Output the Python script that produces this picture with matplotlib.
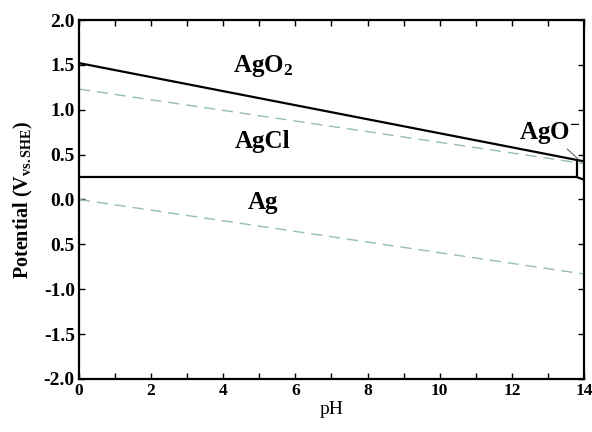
import matplotlib
matplotlib.use("Agg")
import matplotlib.pyplot as plt

# Pourbaix diagram boundaries (pH, potential V vs. SHE)
ph_ago2 = [0.0, 14.0]
v_ago2 = [1.52, 0.425]
ph_agcl = [0.0, 13.8]
v_agcl = [0.25, 0.25]
ph_vert = [13.8, 13.8]
v_vert = [0.25, 0.44]
ph_agoneg = [13.8, 14.0]
v_agoneg = [0.25, 0.22]

# water stability lines
ph_water = [0.0, 14.0]
v_o2 = [1.23, 0.40]
v_h2 = [0.0, -0.83]

# region labels: (text, pH, V)
region_names = ["AgO$_\\mathbf{2}$", "AgCl", "Ag"]
region_ph = [5.1, 5.1, 5.1]
region_v = [1.49, 0.65, -0.03]

x_ticks = list(range(0, 15))
x_ticklabels = [str(t) if t % 2 == 0 else "" for t in x_ticks]
y_ticks = [2.0, 1.5, 1.0, 0.5, 0.0, -0.5, -1.0, -1.5, -2.0]
y_ticklabels = ["2.0", "1.5", "1.0", "0.5", "0.0", "0.5", "-1.0", "-1.5", "-2.0"]

plt.rcParams["font.family"] = ["Liberation Serif", "DejaVu Serif"]
plt.rcParams["mathtext.fontset"] = "custom"
plt.rcParams["mathtext.rm"] = "Liberation Serif"
plt.rcParams["mathtext.bf"] = "Liberation Serif:bold"
plt.rcParams["mathtext.it"] = "Liberation Serif:italic"

fig = plt.figure(figsize=(5.92, 4.32), dpi=100)
ax = fig.add_axes([0.1334, 0.1227, 0.8531, 0.831])

dash_col = "#93bdb5"
ax.plot(ph_water, v_o2, color=dash_col, lw=1.0, dashes=(8, 5))
ax.plot(ph_water, v_h2, color=dash_col, lw=1.0, dashes=(8, 5))

for xs, ys in [(ph_ago2, v_ago2), (ph_agcl, v_agcl), (ph_vert, v_vert), (ph_agoneg, v_agoneg)]:
    ax.plot(xs, ys, color="black", lw=1.6, solid_capstyle="butt")

for name, px, pv in zip(region_names, region_ph, region_v):
    ax.text(px, pv, name, fontsize=18, fontweight="bold", ha="center", va="center")

ax.annotate("AgO$^{\\mathbf{-}}$", xy=(13.84, 0.45), xytext=(13.05, 0.74),
            fontsize=18, fontweight="bold", ha="center", va="center",
            arrowprops=dict(arrowstyle="-", color="#555555", lw=0.7,
                            shrinkA=12, shrinkB=0))

ax.set_xlim(0, 14)
ax.set_ylim(-2.0, 2.0)
ax.set_xticks(x_ticks)
ax.set_xticklabels(x_ticklabels, fontsize=12.5, fontweight="bold")
ax.set_yticks(y_ticks)
ax.set_yticklabels(y_ticklabels, fontsize=14, fontweight="bold")
ax.tick_params(direction="in", length=4, width=1.0, top=True, right=True, pad=3)

for s in ax.spines.values():
    s.set_linewidth(1.6)

ax.set_xlabel("pH", fontsize=14, labelpad=1)
ax.set_ylabel("Potential (V$_{\\mathbf{vs.SHE}}$)", fontsize=14.5, fontweight="bold", labelpad=6)

fig.savefig("out.png", dpi=100)
